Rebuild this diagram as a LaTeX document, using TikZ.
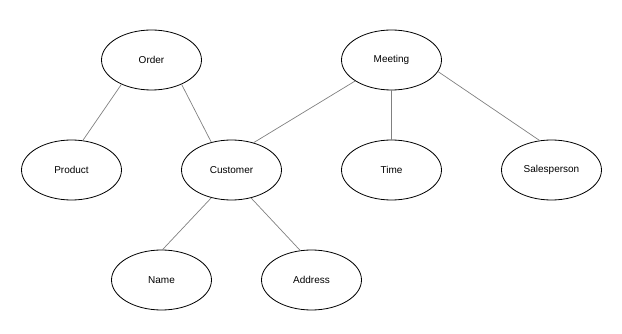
\documentclass[tikz,border=0pt]{standalone}
\usepackage{fontspec}
\setmainfont{Liberation Sans}
\usetikzlibrary{shapes.geometric}
\tikzset{
    entity/.style={ellipse, draw, line width=0.8pt, minimum width=100pt, minimum height=60pt, inner sep=0pt, font=\fontsize{10}{12}\selectfont},
    link/.style={draw, black!50, line width=0.7pt}
}
\begin{document}
\begin{tikzpicture}[x=1pt, y=-1pt]
    \useasboundingbox (0,0) rectangle (622,334);
    % Nodes
    \node[entity] (order) at (151.5,60) {Order};
    \node[entity] (meeting) at (391.5,60) {Meeting};
    \node[entity] (product) at (71.5,170) {Product};
    \node[entity] (customer) at (231.5,170) {Customer};
    \node[entity] (time) at (391.5,170) {Time};
    \node[entity] (sales) at (551.5,170) {Salesperson};
    \node[entity] (name) at (161.5,280) {Name};
    \node[entity] (address) at (311.5,280) {Address};

    % edges
    \draw[link] (order.-141) -- (product.69);
    \draw[link] (order.-39) -- (customer.126);
    \draw[link] (meeting.-150) -- (customer.51);
    \draw[link] (meeting.south) -- (time.north);
    \draw[link] (meeting.-14) -- (sales.112);
    \draw[link] (customer.-126) -- (name.88);
    \draw[link] (customer.-55) -- (address.111);
\end{tikzpicture}
\end{document}
